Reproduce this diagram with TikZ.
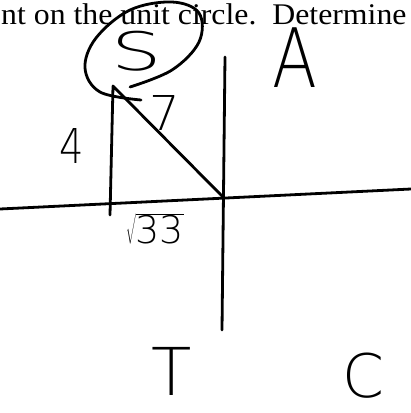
\documentclass[tikz,border=0pt]{standalone}
\usepackage{fontspec}
\setmainfont{Liberation Serif}
\newfontfamily\handfont{DejaVu Sans ExtraLight}
\newcommand{\HandSize}[1]{\fontsize{#1}{#1}\selectfont\handfont}

\begin{document}
\begin{tikzpicture}[
        x=1pt, y=-1pt,
        pen/.style={line width=2.8pt, line cap=round, line join=round},
        hand/.style={inner sep=0pt, anchor=base}
    ]
        \useasboundingbox (0,0) rectangle (411,413);
        \clip (0,0) rectangle (411,413);

        % --- PRINTED LINE AT THE TOP ---
        \node[anchor=base west, inner sep=0pt, font=\fontsize{30}{30}\selectfont, xscale=1.06, transform shape] (question) at (1,24)
            {nt on the unit circle.\ \ Determine};

        % --- AXES ---
        \coordinate (xleft) at (0,209);
        \coordinate (xright) at (411,189);
        \coordinate (ytop) at (225,57);
        \coordinate (ybottom) at (222,330);
        \draw[pen] (xleft) -- (xright);
        \draw[pen] (ytop) -- (ybottom);

        % --- REFERENCE TRIANGLE ---
        \coordinate (apex) at (113,86);
        \coordinate (foot) at (110,215);
        \coordinate (origin) at (223,197);
        \draw[pen] (foot) -- (apex) -- (origin);

        % --- LOOP ROUND THE S ---
        \draw[pen] plot[smooth, tension=0.6] coordinates {(130,87) (172,70) (199,42) (199,13) (172,2) (130,10) (96,38) (85,68) (100,92) (141,100)};

        % --- HANDWRITTEN LABELS ---
        \node[hand, font=\HandSize{53}, xscale=1.5, transform shape] (S) at (137,70) {S};
        \node[hand, font=\HandSize{48}] (seven) at (165,130) {7};
        \node[hand, font=\HandSize{48}, xscale=0.8, transform shape] (four) at (72,163) {4};
        \node[hand, font=\HandSize{38}] (root) at (155,243) {$\sqrt{\mbox{\HandSize{38}33}}$};
        \node[hand, font=\HandSize{82}, xscale=0.8, transform shape] (A) at (295,87) {A};
        \node[hand, font=\HandSize{66}] (T) at (172,395) {T};
        \node[hand, font=\HandSize{60}] (C) at (363,397) {C};

    \end{tikzpicture}
\end{document}
